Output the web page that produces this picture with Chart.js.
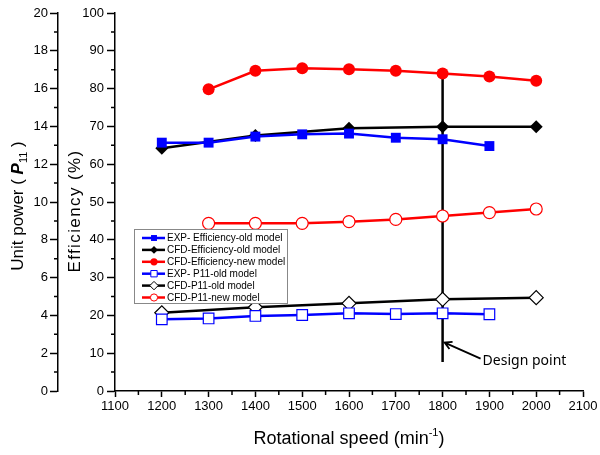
<!DOCTYPE html>
<html>
<head>
<meta charset="utf-8">
<script src="https://cdn.jsdelivr.net/npm/chart.js@4.4.0/dist/chart.umd.min.js"></script>
<style>
html, body { margin: 0; padding: 0; background: #fff; }
canvas { display: block; }
</style>
</head>
<body>
<canvas id="chart" width="600" height="455"></canvas>
<script>
// rotational speeds (min^-1)
const speedExp = [1200, 1300, 1400, 1500, 1600, 1700, 1800, 1900];
const speedCfdOld = [1200, 1400, 1600, 1800, 2000];
const speedCfdNew = [1300, 1400, 1500, 1600, 1700, 1800, 1900, 2000];

// efficiency (%)
const effExpOld = [65.7, 65.7, 67.3, 67.9, 68.1, 67.0, 66.6, 64.8];
const effCfdOld = [64.2, 67.6, 69.5, 69.9, 69.9];
const effCfdNew = [79.8, 84.7, 85.4, 85.1, 84.7, 84.0, 83.2, 82.1];

// unit power P11
const p11ExpOld = [3.79, 3.84, 3.97, 4.02, 4.11, 4.07, 4.11, 4.06];
const p11CfdOld = [4.14, 4.43, 4.64, 4.85, 4.94];
const p11CfdNew = [8.87, 8.87, 8.87, 8.96, 9.08, 9.26, 9.44, 9.63];

// design point marker
const designSpeed = 1800;
const designEffRange = [84.5, 7.7];
const designLabel = 'Design point';

const labels = [
    'EXP- Efficiency-old model',
    'CFD-Efficiency-old model',
    'CFD-Efficiency-new model',
    'EXP- P11-old model',
    'CFD-P11-old model',
    'CFD-P11-new model'
];

const tickFont = { family: 'Liberation Sans, Arial, sans-serif', size: 13 };

let toXY = (xs, ys) => xs.map((x, i) => ({ x: x, y: ys[i] }));

let series = (label, xs, ys, axis, color, style, radius, open) => ({
    label: label,
    data: toXY(xs, ys),
    yAxisID: axis,
    borderColor: color,
    borderWidth: 2.5,
    pointStyle: style,
    pointRadius: radius,
    pointBackgroundColor: open ? '#fff' : color,
    pointBorderColor: color,
    pointBorderWidth: open ? 1.2 : 0,
    tension: 0
});

const datasets = [
    series(labels[0], speedExp, effExpOld, 'eff', '#0000ff', 'rect', 7, false),
    series(labels[1], speedCfdOld, effCfdOld, 'eff', '#000000', 'rectRot', 6.5, false),
    series(labels[2], speedCfdNew, effCfdNew, 'eff', '#ff0000', 'circle', 6, false),
    series(labels[3], speedExp, p11ExpOld, 'p11', '#0000ff', 'rect', 7.5, true),
    series(labels[4], speedCfdOld, p11CfdOld, 'p11', '#000000', 'rectRot', 7, true),
    series(labels[5], speedCfdNew, p11CfdNew, 'p11', '#ff0000', 'circle', 6, true),
    {
        label: 'design',
        data: designEffRange.map(v => ({ x: designSpeed, y: v })),
        yAxisID: 'eff',
        borderColor: '#000',
        borderWidth: 2.5,
        pointRadius: 0,
        order: 5
    }
];

// short minor ticks between the labelled ones
const minorTicks = {
    id: 'minorTicks',
    afterDraw(chart) {
        const ctx = chart.ctx;
        const s = chart.scales;
        ctx.save();
        ctx.strokeStyle = '#000';
        ctx.lineWidth = 1.5;
        ctx.beginPath();
        for (let v = 1150; v < 2100; v += 100) {
            const px = s.x.getPixelForValue(v);
            ctx.moveTo(px, s.x.top);
            ctx.lineTo(px, s.x.top + 4);
        }
        for (let v = 1; v < 20; v += 2) {
            const py = s.p11.getPixelForValue(v);
            ctx.moveTo(s.p11.right, py);
            ctx.lineTo(s.p11.right - 4, py);
        }
        for (let v = 5; v < 100; v += 10) {
            const py = s.eff.getPixelForValue(v);
            ctx.moveTo(s.eff.right, py);
            ctx.lineTo(s.eff.right - 4, py);
        }
        ctx.stroke();
        ctx.restore();
    }
};

let drawRich = (ctx, parts, x, y, rotate, spacing) => {
    ctx.save();
    ctx.translate(x, y);
    if (rotate) ctx.rotate(-Math.PI / 2);
    ctx.letterSpacing = (spacing || 0) + 'px';
    let total = 0;
    parts.forEach(p => { ctx.font = p.font; total += ctx.measureText(p.text).width; });
    let cx = -total / 2;
    ctx.textBaseline = 'alphabetic';
    ctx.textAlign = 'left';
    ctx.fillStyle = '#000';
    parts.forEach(p => {
        ctx.font = p.font;
        ctx.fillText(p.text, cx, 6 + (p.dy || 0));
        cx += ctx.measureText(p.text).width;
    });
    ctx.restore();
};

// axis titles with sub/superscripts
const axisTitles = {
    id: 'axisTitles',
    afterDraw(chart) {
        const ctx = chart.ctx;
        const f = '17px "Liberation Sans", Arial, sans-serif';
        const small = '11px "Liberation Sans", Arial, sans-serif';
        drawRich(ctx, [
            { text: 'Unit power ( ', font: f },
            { text: 'P', font: 'italic bold 17px "Liberation Sans", Arial, sans-serif' },
            { text: '11', font: small, dy: 4 },
            { text: ' )', font: f }
        ], 17, 206, true);
        drawRich(ctx, [{ text: 'Efficiency (%)', font: f }], 74, 211, true, 1.4);
        drawRich(ctx, [
            { text: 'Rotational speed (min', font: '18px "Liberation Sans", Arial, sans-serif' },
            { text: '-1', font: small, dy: -8 },
            { text: ')', font: '18px "Liberation Sans", Arial, sans-serif' }
        ], 349, 438, false);
    }
};

// design point arrow and label
const designNote = {
    id: 'designNote',
    afterDraw(chart) {
        const ctx = chart.ctx;
        const tipX = chart.scales.x.getPixelForValue(designSpeed) + 2;
        const tipY = chart.scales.eff.getPixelForValue(12.8);
        const tailX = tipX + 36, tailY = tipY + 16;
        const a = Math.atan2(tipY - tailY, tipX - tailX);
        ctx.save();
        ctx.strokeStyle = '#000';
        ctx.lineWidth = 1.8;
        ctx.beginPath();
        ctx.moveTo(tailX, tailY);
        ctx.lineTo(tipX, tipY);
        ctx.moveTo(tipX - 8 * Math.cos(a - 0.5), tipY - 8 * Math.sin(a - 0.5));
        ctx.lineTo(tipX, tipY);
        ctx.lineTo(tipX - 8 * Math.cos(a + 0.5), tipY - 8 * Math.sin(a + 0.5));
        ctx.stroke();
        ctx.fillStyle = '#000';
        ctx.font = '14px "Noto Sans", "Open Sans", sans-serif';
        ctx.textBaseline = 'middle';
        ctx.fillText(designLabel, tailX + 2, tailY + 2);
        ctx.restore();
    }
};

// boxed legend inside the plot
const boxLegend = {
    id: 'boxLegend',
    afterDraw(chart) {
        const ctx = chart.ctx;
        const left = 134, top = 229, w = 153, h = 74, row = 11.9;
        ctx.save();
        ctx.fillStyle = '#fff';
        ctx.fillRect(left, top, w, h);
        ctx.strokeStyle = '#888';
        ctx.lineWidth = 1;
        ctx.strokeRect(left + 0.5, top + 0.5, w, h);
        ctx.font = '10px "Liberation Sans", Arial, sans-serif';
        ctx.textBaseline = 'middle';
        chart.data.datasets.slice(0, 6).forEach((ds, i) => {
            const y = top + 9 + i * row;
            ctx.strokeStyle = ds.borderColor;
            ctx.lineWidth = 2.5;
            ctx.beginPath();
            ctx.moveTo(left + 8, y);
            ctx.lineTo(left + 31, y);
            ctx.stroke();
            ctx.fillStyle = ds.pointBackgroundColor;
            ctx.strokeStyle = ds.pointBorderColor;
            ctx.lineWidth = 1;
            Chart.helpers.drawPoint(ctx, {
                pointStyle: ds.pointStyle,
                radius: ds.pointRadius * 0.6,
                borderWidth: ds.pointBorderWidth ? 1 : 0,
                rotation: 0
            }, left + 20, y);
            ctx.fillStyle = '#000';
            ctx.fillText(ds.label, left + 33, y + 0.5);
        });
        ctx.restore();
    }
};

let axisGrid = {
    display: true,
    drawOnChartArea: false,
    drawTicks: true,
    tickLength: 8,
    tickWidth: 1.5,
    color: '#000'
};

new Chart(document.getElementById('chart'), {
    type: 'line',
    data: { datasets: datasets },
    options: {
        responsive: false,
        animation: false,
        devicePixelRatio: 1,
        layout: { padding: { top: 13, right: 17, left: 0, bottom: 0 } },
        plugins: {
            legend: { display: false },
            tooltip: { enabled: false }
        },
        scales: {
            x: {
                type: 'linear',
                min: 1100,
                max: 2100,
                ticks: {
                    stepSize: 100, color: '#000', font: tickFont, padding: 2, maxRotation: 0,
                    callback: v => String(v)
                },
                grid: Object.assign({}, axisGrid, { tickLength: 6 }),
                border: { display: true, color: '#000', width: 1.5 },
                afterFit: s => { s.height = 64; }
            },
            p11: {
                position: 'left',
                weight: 2,
                min: 0,
                max: 20,
                ticks: { stepSize: 2, color: '#000', font: tickFont, padding: 2 },
                grid: axisGrid,
                border: { display: true, color: '#000', width: 1.5 },
                afterFit: s => { s.width = 58; }
            },
            eff: {
                position: 'left',
                weight: 1,
                min: 0,
                max: 100,
                ticks: { stepSize: 10, color: '#000', font: tickFont, padding: 3 },
                grid: axisGrid,
                border: { display: true, color: '#000', width: 1.5 },
                afterFit: s => { s.width = 57; }
            }
        }
    },
    plugins: [minorTicks, axisTitles, designNote, boxLegend]
});
</script>
</body>
</html>
